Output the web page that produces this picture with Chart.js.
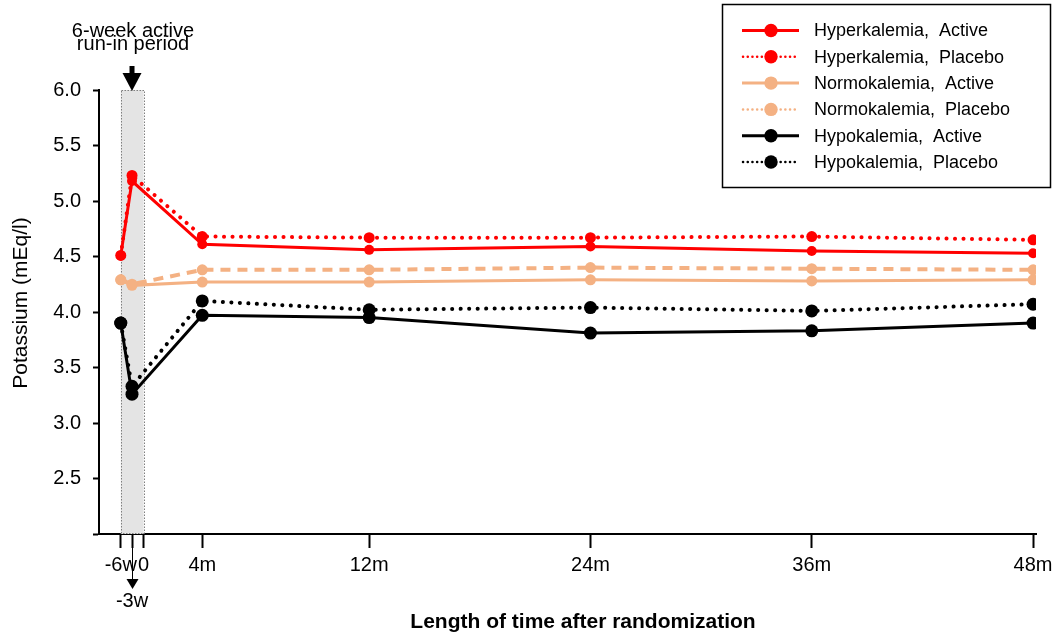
<!DOCTYPE html>
<html>
<head>
<meta charset="utf-8">
<script src="https://cdn.jsdelivr.net/npm/chart.js@4"></script>
<style>
  html, body { margin: 0; padding: 0; background: #fff; }
  canvas { display: block; }
</style>
</head>
<body>
<canvas id="kChart" width="1060" height="639"></canvas>
<script>
// Visit ticks on the time axis; the run-in weeks are stretched so they stay readable
const visits = ['-6w', '-3w', '0', '4m', '12m', '24m', '36m', '48m'];
const visitPos = [-1.47, -0.86, -0.23, 2.95, 12, 24, 36, 48];
// Visits where potassium was measured (none at 0)
const measured = ['-6w', '-3w', '4m', '12m', '24m', '36m', '48m'];

// Mean serum potassium (mEq/l)
const hyperActive  = [4.51, 5.18, 4.61, 4.56, 4.59, 4.55, 4.53];
const hyperPlacebo = [4.51, 5.23, 4.68, 4.67, 4.67, 4.68, 4.65];
const normoActive  = [4.29, 4.24, 4.27, 4.27, 4.29, 4.28, 4.29];
const normoPlacebo = [4.29, 4.25, 4.38, 4.38, 4.40, 4.39, 4.38];
const hypoActive   = [3.90, 3.26, 3.97, 3.95, 3.81, 3.83, 3.90];
const hypoPlacebo  = [3.90, 3.33, 4.10, 4.02, 4.04, 4.01, 4.07];

const FONT = '"Liberation Sans", Arial, sans-serif';
const RED = '#ff0000';
const PEACH = '#f4b183';
const BLACK = '#000000';

function toPoints(values) {
    return measured.map((v, i) => ({ x: visitPos[visits.indexOf(v)], y: values[i] }));
}

function series(label, values, color, dash, radius) {
    return {
        label: label,
        data: toPoints(values),
        borderColor: color,
        backgroundColor: color,
        pointBackgroundColor: color,
        pointBorderColor: color,
        pointRadius: radius,
        pointBorderWidth: 0,
        borderWidth: dash === 'solid' ? 3 : 4,
        borderDash: dash === 'dot' ? [0.1, 8.4] : (dash === 'dash' ? [10, 7] : []),
        borderCapStyle: dash === 'dot' ? 'round' : 'butt',
        tension: 0,
        fill: false
    };
}

// Grey run-in band from -6w to 0
const runInBand = {
    id: 'runInBand',
    beforeDatasetsDraw(chart) {
        const x = chart.scales.x;
        const area = chart.chartArea;
        const x0 = x.getPixelForValue(visitPos[0]);
        const x1 = x.getPixelForValue(visitPos[2]);
        const ctx = chart.ctx;
        ctx.save();
        ctx.fillStyle = '#e4e4e4';
        ctx.fillRect(x0, area.top, x1 - x0, area.bottom - area.top);
        ctx.strokeStyle = '#7f7f7f';
        ctx.lineWidth = 1;
        ctx.setLineDash([1.5, 1.5]);
        ctx.strokeRect(Math.round(x0) + 0.5, area.top + 0.5, Math.round(x1 - x0), area.bottom - area.top - 1);
        ctx.restore();
    }
};

// Arrows, run-in note, -3w label, axis titles and the boxed legend
const annotations = {
    id: 'annotations',
    afterDraw(chart) {
        const ctx = chart.ctx;
        const x = chart.scales.x;
        const area = chart.chartArea;
        const xm = x.getPixelForValue(visitPos[1]);
        ctx.save();

        // note above the band
        ctx.fillStyle = '#000';
        ctx.font = '20px ' + FONT;
        ctx.textAlign = 'center';
        ctx.textBaseline = 'alphabetic';
        ctx.fillText('6-week active', xm + 1, 37);
        ctx.fillText('run-in period', xm + 1, 49.5);

        // thick arrow pointing at the start of the run-in
        ctx.fillRect(xm - 2.5, 66, 5, 9);
        ctx.beginPath();
        ctx.moveTo(xm - 9.5, 73);
        ctx.lineTo(xm + 9.5, 73);
        ctx.lineTo(xm, area.top + 1);
        ctx.closePath();
        ctx.fill();

        // thin arrow down to the -3w label
        ctx.strokeStyle = '#000';
        ctx.lineWidth = 1;
        ctx.beginPath();
        ctx.moveTo(xm + 0.5, area.bottom + 12);
        ctx.lineTo(xm + 0.5, 581);
        ctx.stroke();
        ctx.beginPath();
        ctx.moveTo(xm - 5.5, 579);
        ctx.lineTo(xm + 6.5, 579);
        ctx.lineTo(xm + 0.5, 589);
        ctx.closePath();
        ctx.fill();
        ctx.fillText('-3w', xm, 607);

        // axis titles
        ctx.font = 'bold 21px ' + FONT;
        ctx.fillText('Length of time after randomization', 583, 628);
        ctx.save();
        ctx.translate(27, 303);
        ctx.rotate(-Math.PI / 2);
        ctx.font = '21px ' + FONT;
        ctx.fillText('Potassium (mEq/l)', 0, 0);
        ctx.restore();

        // legend box
        ctx.lineWidth = 1.5;
        ctx.setLineDash([]);
        ctx.strokeRect(722.5, 4.5, 328, 183);
        ctx.font = '18px ' + FONT;
        ctx.textAlign = 'left';
        ctx.textBaseline = 'middle';
        chart.data.datasets.forEach((ds, i) => {
            const y = 30.5 + i * 26.3;
            const dotted = ds.borderDash.length > 0;
            ctx.strokeStyle = ds.borderColor;
            ctx.lineWidth = dotted ? 2.5 : 3;
            ctx.lineCap = dotted ? 'round' : 'butt';
            ctx.setLineDash(dotted ? [0.1, 4.6] : []);
            ctx.beginPath();
            ctx.moveTo(dotted ? 743 : 742, y);
            ctx.lineTo(799, y);
            ctx.stroke();
            ctx.setLineDash([]);
            ctx.fillStyle = ds.borderColor;
            ctx.beginPath();
            ctx.arc(771, y, 6.7, 0, Math.PI * 2);
            ctx.fill();
            ctx.fillStyle = '#000';
            ctx.fillText(ds.label.replace(', ', ',  '), 814, y + 1);
        });
        ctx.restore();
    }
};

new Chart(document.getElementById('kChart'), {
    type: 'line',
    data: {
        datasets: [
            series('Hyperkalemia, Active', hyperActive, RED, 'solid', 5),
            series('Hyperkalemia, Placebo', hyperPlacebo, RED, 'dot', 5.5),
            series('Normokalemia, Active', normoActive, PEACH, 'solid', 5.5),
            series('Normokalemia, Placebo', normoPlacebo, PEACH, 'dash', 5.5),
            series('Hypokalemia, Active', hypoActive, BLACK, 'solid', 6.5),
            series('Hypokalemia, Placebo', hypoPlacebo, BLACK, 'dot', 6.5)
        ]
    },
    options: {
        responsive: false,
        animation: false,
        layout: { padding: { top: 90, right: 24, left: 0, bottom: 0 } },
        plugins: {
            legend: { display: false },
            tooltip: { enabled: false }
        },
        scales: {
            x: {
                type: 'linear',
                min: -2.65,
                max: 48.16,
                afterBuildTicks: scale => {
                    scale.ticks = visitPos.map(v => ({ value: v }));
                },
                afterFit: scale => { scale.height = 105; },
                ticks: {
                    autoSkip: false,
                    maxRotation: 0,
                    padding: 5,
                    color: '#000',
                    font: { family: FONT, size: 20 },
                    callback: (value, index) => visits[index] === '-3w' ? '' : visits[index]
                },
                grid: {
                    drawOnChartArea: false,
                    drawTicks: true,
                    tickLength: 14,
                    tickColor: '#000',
                    tickWidth: 2
                },
                border: { color: '#000', width: 2 }
            },
            y: {
                min: 2,
                max: 6,
                afterFit: scale => { scale.width = 99; },
                ticks: {
                    stepSize: 0.5,
                    padding: 12,
                    color: '#000',
                    font: { family: FONT, size: 20 },
                    callback: v => v === 2 ? '' : v.toFixed(1)
                },
                grid: {
                    drawOnChartArea: false,
                    drawTicks: true,
                    tickLength: 6,
                    tickColor: '#000',
                    tickWidth: 2
                },
                border: { color: '#000', width: 2 }
            }
        }
    },
    plugins: [runInBand, annotations]
});
</script>
</body>
</html>
